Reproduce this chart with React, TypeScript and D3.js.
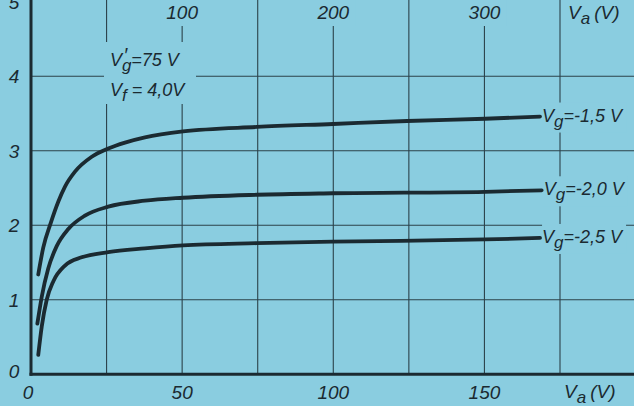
import { useEffect, useRef } from 'react';
import * as d3 from 'd3';

// anode voltage on the top scale (V), anode current (mA)
const vaTicksTop = [100, 200, 300];
const vaTicksBottom = [0, 50, 100, 150];
const iaTicks = [0, 1, 2, 3, 4, 5];

const curveG15: [number, number][] = [
  [4.8, 1.34], [8.1, 1.7], [13.2, 2.04], [18.1, 2.32], [22.5, 2.52], [29.1, 2.72],
  [40.2, 2.92], [51.1, 3.03], [62.2, 3.11], [75.4, 3.18], [100.6, 3.26], [149.5, 3.32],
  [199.8, 3.36], [248.8, 3.4], [300.4, 3.43], [336.8, 3.46],
];
const curveG20: [number, number][] = [
  [4.2, 0.68], [7.1, 1.04], [11.4, 1.42], [17.0, 1.72], [24.7, 1.95], [35.7, 2.13],
  [51.1, 2.25], [75.4, 2.33], [100.6, 2.37], [149.5, 2.41], [199.8, 2.43], [300.4, 2.45],
  [337.9, 2.47],
];
const curveG25: [number, number][] = [
  [4.8, 0.26], [7.1, 0.64], [10.4, 1.0], [14.8, 1.25], [22.5, 1.46], [33.5, 1.57],
  [51.1, 1.64], [75.4, 1.69], [100.6, 1.73], [149.5, 1.76], [199.8, 1.78], [300.4, 1.81],
  [336.8, 1.83],
];
const curves = [
  { label: '-1,5 V', points: curveG15 },
  { label: '-2,0 V', points: curveG20 },
  { label: '-2,5 V', points: curveG25 },
];

const W = 634;
const H = 406;
const BG = '#8acde0';
const INK = '#1b2a31';
const FONT = '"Liberation Sans", Arial, sans-serif';

const App = () => {
  const svgRef = useRef<SVGSVGElement>(null);

  useEffect(() => {
    if (!svgRef.current) return;
    const svg = d3.select(svgRef.current);
    svg.selectAll('*').remove();

    const x = d3.scaleLinear().domain([0, 350]).range([31, 560]);
    const xb = d3.scaleLinear().domain([0, 175]).range([31, 560]);
    const y = d3.scaleLinear().domain([0, 5]).range([374.3, 1.8]);

    svg.append('rect').attr('width', W).attr('height', H).attr('fill', BG);

    // grid
    const grid = svg.append('g').attr('stroke', INK).attr('stroke-width', 1.1).attr('opacity', 0.85);
    d3.range(25, 176, 25).forEach(v => {
      grid.append('line')
        .attr('x1', xb(v)).attr('x2', xb(v))
        .attr('y1', 0).attr('y2', y(0));
    });
    [1, 2, 3, 4].forEach(v => {
      grid.append('line')
        .attr('x1', x(0)).attr('x2', W)
        .attr('y1', y(v)).attr('y2', y(v));
    });

    // axes
    svg.append('line').attr('x1', x(0)).attr('x2', x(0)).attr('y1', 0).attr('y2', y(0) + 1.5)
      .attr('stroke', INK).attr('stroke-width', 3);
    svg.append('line').attr('x1', x(0) - 1.5).attr('x2', W).attr('y1', y(0)).attr('y2', y(0))
      .attr('stroke', INK).attr('stroke-width', 3);

    // background patches where lettering interrupts the grid
    const patches = svg.append('g').attr('fill', BG);
    const patch = (px: number, py: number, w: number, h: number) =>
      patches.append('rect').attr('x', px).attr('y', py).attr('width', w).attr('height', h);

    vaTicksTop.forEach(v => patch(x(v) - 22, 0, 44, 26));
    patch(565, 0, 69, 28);
    patch(104, 42, 92, 62);

    // curves
    const line = d3.line<[number, number]>()
      .x(d => x(d[0]))
      .y(d => y(d[1]))
      .curve(d3.curveMonotoneX);

    const labels = svg.append('g')
      .attr('font-family', FONT)
      .attr('font-style', 'italic')
      .attr('fill', INK)
      .attr('font-size', 19);

    curves.forEach(c => {
      svg.insert('path', 'g:last-child')
        .datum(c.points)
        .attr('fill', 'none')
        .attr('stroke', INK)
        .attr('stroke-width', 3.8)
        .attr('stroke-linecap', 'round')
        .attr('d', line);
    });

    // left axis
    iaTicks.forEach(v => {
      labels.append('text')
        .attr('x', 14).attr('y', y(v) + (v === 0 ? 4 : 7))
        .attr('text-anchor', 'middle')
        .text(v);
    });

    // top axis
    vaTicksTop.forEach(v => {
      labels.append('text')
        .attr('x', x(v)).attr('y', 19)
        .attr('text-anchor', 'middle')
        .text(v);
    });

    // bottom axis
    vaTicksBottom.forEach(v => {
      labels.append('text')
        .attr('x', xb(v) - (v === 0 ? 3 : 0)).attr('y', 399)
        .attr('text-anchor', 'middle')
        .text(v);
    });

    const vaLabel = (px: number, py: number) => {
      const t = labels.append('text').attr('x', px).attr('y', py);
      t.append('tspan').text('V');
      t.append('tspan').attr('dy', 5).attr('font-size', 17).text('a');
      t.append('tspan').attr('dy', -5).attr('dx', 4).text('(V)');
    };
    vaLabel(568, 19);
    vaLabel(564, 398);

    // curve labels
    curves.forEach(c => {
      const last = c.points[c.points.length - 1];
      const px = x(last[0]) + 2;
      const py = y(last[1]);
      patch(px, py - 14, 84, 30);
      const t = labels.append('text').attr('x', px).attr('y', py + 5).attr('font-size', 18);
      t.append('tspan').text('V');
      t.append('tspan').attr('dy', 5).attr('font-size', 17).text('g');
      t.append('tspan').attr('dy', -5).text('=' + c.label);
    });

    // operating conditions
    const a1 = labels.append('text').attr('x', 110).attr('y', 66).attr('font-size', 18);
    a1.append('tspan').text('V');
    a1.append('tspan').attr('dy', 5).attr('font-size', 17).text('g');
    a1.append('tspan').attr('dx', -8).attr('dy', -9).attr('font-size', 20).text('\u2032');
    a1.append('tspan').attr('dx', 4).attr('dy', 4).text('=75 V');

    const a2 = labels.append('text').attr('x', 110).attr('y', 96).attr('font-size', 18);
    a2.append('tspan').text('V');
    a2.append('tspan').attr('dy', 5).attr('font-size', 17).text('f');
    a2.append('tspan').attr('dy', -5).text(' = 4,0V');
  }, []);

  return (
    <svg
      ref={svgRef}
      width={W}
      height={H}
      style={{ position: 'absolute', left: 0, top: 0, display: 'block' }}
    />
  );
};

export default App;
